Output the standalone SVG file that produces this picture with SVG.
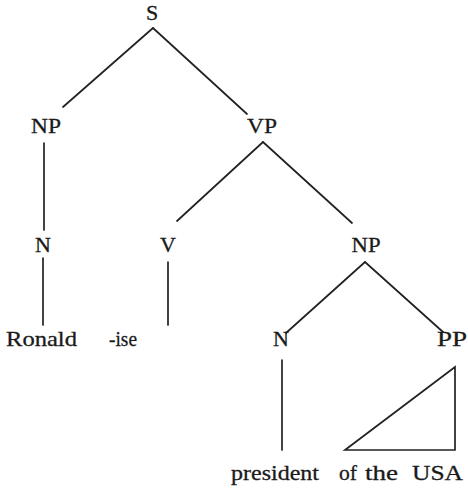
<svg xmlns="http://www.w3.org/2000/svg" width="468" height="488" viewBox="0 0 468 488">
<style>
text{font-family:"Liberation Serif","Times New Roman",serif;font-size:22px;fill:#1a1a1a;text-anchor:middle;stroke:#1a1a1a;stroke-width:0.3}
.e line,.e polygon{stroke:#222;stroke-width:1.7;fill:none;stroke-linecap:round}
</style>
<rect width="468" height="488" fill="#fff"/>
<g class="e" id="connectors">
<line x1="153" y1="28" x2="63" y2="107"/>
<line x1="153" y1="28" x2="247" y2="114"/>
<line x1="44" y1="143" x2="44" y2="230"/>
<line x1="263" y1="142" x2="177" y2="221"/>
<line x1="263" y1="142" x2="352" y2="223"/>
<line x1="43" y1="258" x2="43" y2="325"/>
<line x1="168" y1="262" x2="168" y2="325"/>
<line x1="365" y1="262" x2="286" y2="333"/>
<line x1="365" y1="262" x2="443" y2="332"/>
<line x1="282" y1="360" x2="282" y2="450"/>
<polygon points="455,367 345,450 455,450"/>
</g>
<g id="S"><text x="152" y="20">S</text></g>
<g id="NP1"><text x="46" y="133" textLength="30" lengthAdjust="spacingAndGlyphs">NP</text></g>
<g id="VP"><text x="262" y="133" textLength="30" lengthAdjust="spacingAndGlyphs">VP</text></g>
<g id="N1"><text x="43" y="252">N</text></g>
<g id="V"><text x="168" y="252">V</text></g>
<g id="NP2"><text x="366" y="252" textLength="29" lengthAdjust="spacingAndGlyphs">NP</text></g>
<g id="Ronald"><text x="41.5" y="346" textLength="71" lengthAdjust="spacingAndGlyphs">Ronald</text></g>
<g id="ise"><text x="123" y="346" textLength="28" lengthAdjust="spacingAndGlyphs">-ise</text></g>
<g id="N2"><text x="281" y="346">N</text></g>
<g id="PP"><text x="452" y="346" textLength="30" lengthAdjust="spacingAndGlyphs">PP</text></g>
<g id="president"><text x="275" y="480" textLength="88" lengthAdjust="spacingAndGlyphs">president</text></g>
<g id="ofTheUSA"><text x="348" y="480" textLength="18" lengthAdjust="spacingAndGlyphs">of</text><text x="381.5" y="480" textLength="33" lengthAdjust="spacingAndGlyphs">the</text><text x="437.5" y="480" textLength="51" lengthAdjust="spacingAndGlyphs">USA</text></g>
</svg>
